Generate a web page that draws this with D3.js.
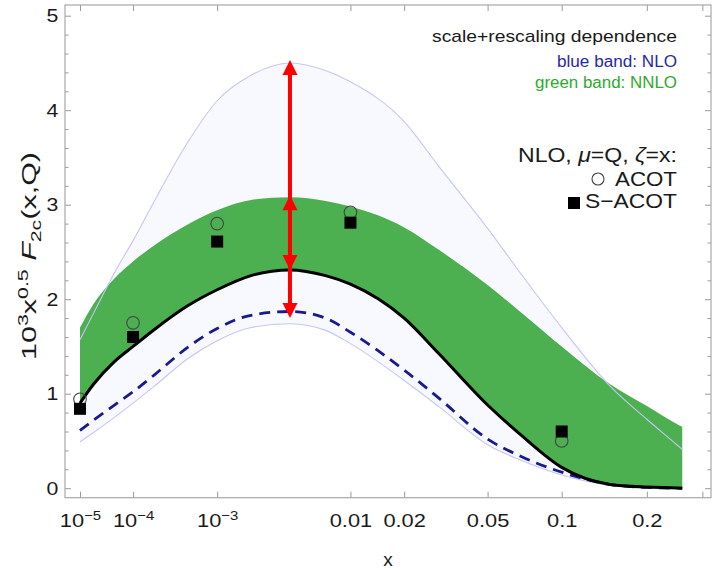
<!DOCTYPE html>
<html><head><meta charset="utf-8">
<script src="https://cdn.jsdelivr.net/npm/d3@7"></script>
<style>
html,body{margin:0;padding:0;background:#fff;}
svg{display:block;font-family:"Liberation Sans",Arial,Helvetica,sans-serif;}
</style>
</head><body>
<svg id="chart" width="712" height="572"></svg>
<script>
// ---------------- data ----------------
const xGrid        = [1e-5, 2e-5, 5e-5, 1e-4, 2e-4, 5e-4, 1e-3, 2e-3, 4e-3, 7e-3, 0.01, 0.02, 0.03, 0.05, 0.07, 0.1, 0.15, 0.2, 0.25, 0.26];
const nnloCentral  = [0.90, 1.10, 1.34, 1.50, 1.68, 1.93, 2.10, 2.25, 2.31, 2.25, 2.16, 1.80, 1.42, 0.88, 0.55, 0.22, 0.04, 0.012, 0.003, 0.0];
const nloCentral   = [0.61, 0.72, 0.88, 1.02, 1.20, 1.49, 1.69, 1.83, 1.87, 1.80, 1.65, 1.25, 0.95, 0.52, 0.33, 0.17, 0.04, 0.008, 0.0, 0.0];
const nloBandLow   = [0.49, 0.59, 0.75, 0.90, 1.08, 1.37, 1.56, 1.70, 1.74, 1.67, 1.53, 1.14, 0.86, 0.46, 0.29, 0.14, 0.03, 0.005, 0.0, 0.0];
const nloBandHigh  = [1.57, 1.85, 2.28, 2.62, 3.04, 3.66, 4.10, 4.37, 4.50, 4.42, 4.30, 3.88, 3.40, 2.75, 2.25, 1.70, 1.08, 0.73, 0.46, 0.41];
const nnloBandHigh = [1.70, 1.95, 2.22, 2.40, 2.57, 2.79, 2.94, 3.05, 3.08, 3.04, 2.98, 2.76, 2.52, 2.15, 1.85, 1.50, 1.10, 0.87, 0.68, 0.65];

const pointX   = [1e-5, 1e-4, 1e-3, 0.01, 0.1];
const acotY    = [0.94, 1.75, 2.80, 2.92, 0.50];
const sacotY   = [0.84, 1.60, 2.61, 2.81, 0.60];

const arrowX      = 0.004;
const arrowRanges = [[1.80, 4.53], [2.31, 3.10]];

const xTickValues = [1e-5, 1e-4, 1e-3, 0.01, 0.02, 0.05, 0.1, 0.2, 0.3];
const xTickLabels = [["10","−5"], ["10","−4"], ["10","−3"], ["0.01"], ["0.02"], ["0.05"], ["0.1"], ["0.2"], [""]];
const yTickValues = [0, 1, 2, 3, 4, 5];
const yMinorTicks = [0.2,0.4,0.6,0.8,1.2,1.4,1.6,1.8,2.2,2.4,2.6,2.8,3.2,3.4,3.6,3.8,4.2,4.4,4.6,4.8,5.2];

// ---------------- layout ----------------
const svg = d3.select("#chart");
const frame = {left: 65, right: 711, top: 5, bottom: 497.7};
const x = d3.scalePow().exponent(0.2).domain([1e-5, 0.1]).range([80, 561.7]);
const y = d3.scaleLinear().domain([0, 5]).range([488.2, 15.7]);

svg.append("defs").append("clipPath").attr("id","clip")
  .append("rect").attr("x",frame.left).attr("y",frame.top)
  .attr("width",frame.right-frame.left).attr("height",frame.bottom-frame.top);

const plot = svg.append("g").attr("clip-path","url(#clip)");
const idx = d3.range(xGrid.length);
const curve = d3.curveMonotoneX;

// NLO band (light lavender)
plot.append("path")
  .attr("d", d3.area().curve(curve).x(i=>x(xGrid[i])).y0(i=>y(nloBandLow[i])).y1(i=>y(nloBandHigh[i]))(idx))
  .attr("fill","#f8f8ff").attr("stroke","none");

// NNLO band (green) from central to upper
plot.append("path")
  .attr("d", d3.area().curve(curve).x(i=>x(xGrid[i])).y0(i=>y(nnloCentral[i])).y1(i=>y(nnloBandHigh[i]))(idx))
  .attr("fill","#4caf50").attr("stroke","none");

// NLO band edges
[nloBandLow, nloBandHigh].forEach(arr => {
  plot.append("path")
    .attr("d", d3.line().curve(curve).x(i=>x(xGrid[i])).y(i=>y(arr[i]))(idx))
    .attr("fill","none").attr("stroke","#c6c6f6").attr("stroke-width",1.1);
});

// NLO central (dashed)
plot.append("path")
  .attr("d", d3.line().curve(curve).x(i=>x(xGrid[i])).y(i=>y(nloCentral[i]))(idx))
  .attr("fill","none").attr("stroke","#1a1a8e").attr("stroke-width",2.8)
  .attr("stroke-dasharray","11,7");

// NNLO central (solid black)
plot.append("path")
  .attr("d", d3.line().curve(curve).x(i=>x(xGrid[i])).y(i=>y(nnloCentral[i]))(idx))
  .attr("fill","none").attr("stroke","#000").attr("stroke-width",3);

// markers
plot.selectAll("circle.acot").data(pointX).enter().append("circle")
  .attr("cx",(d)=>x(d)).attr("cy",(d,i)=>y(acotY[i])).attr("r",6.3)
  .attr("fill","none").attr("stroke","#444").attr("stroke-width",1.1);
plot.selectAll("rect.sacot").data(pointX).enter().append("rect")
  .attr("x",(d)=>x(d)-6).attr("y",(d,i)=>y(sacotY[i])-6).attr("width",12).attr("height",12)
  .attr("fill","#000");

// red arrows
const ax = x(arrowX);
arrowRanges.forEach(([lo, hi]) => {
  plot.append("line").attr("x1",ax).attr("x2",ax).attr("y1",y(lo)-8).attr("y2",y(hi)+8)
    .attr("stroke","#ff0000").attr("stroke-width",4);
  const yt = y(hi), yb = y(lo);
  plot.append("path").attr("d",`M${ax},${yt} L${ax-7.5},${yt+15} L${ax+7.5},${yt+15} Z`).attr("fill","#ff0000");
  plot.append("path").attr("d",`M${ax},${yb} L${ax-7.5},${yb-15} L${ax+7.5},${yb-15} Z`).attr("fill","#ff0000");
});

// ---------------- axes / frame ----------------
const tickCol = "#9a9a9a";
const bottomAxis = svg.append("g").attr("transform",`translate(0,${frame.bottom})`)
  .call(d3.axisBottom(x).tickValues(xTickValues).tickSizeInner(-6).tickSizeOuter(0).tickPadding(16).tickFormat(""));
bottomAxis.select(".domain").remove();
bottomAxis.attr("color",tickCol);
bottomAxis.selectAll(".tick text").each(function(d,i){
  const t = d3.select(this).attr("fill","#1a1a1a").style("font-size","19px").attr("transform","scale(1.15,1)");
  const lab = xTickLabels[i];
  t.append("tspan").text(lab[0]);
  if (lab.length > 1) t.append("tspan").attr("dy","-0.55em").style("font-size","13px").text(lab[1]);
});

const topAxis = svg.append("g").attr("transform",`translate(0,${frame.top})`)
  .call(d3.axisTop(x).tickValues(xTickValues).tickSizeInner(-6).tickSizeOuter(0).tickFormat(""));
topAxis.select(".domain").remove(); topAxis.attr("color",tickCol);

const leftAxis = svg.append("g").attr("transform",`translate(${frame.left},0)`)
  .call(d3.axisLeft(y).tickValues(yTickValues).tickSizeInner(-6).tickSizeOuter(0).tickPadding(6).tickFormat(d3.format("d")));
leftAxis.select(".domain").remove(); leftAxis.attr("color",tickCol);
leftAxis.selectAll(".tick text").attr("fill","#1a1a1a").style("font-size","19px").attr("transform","scale(1.12,1)");

const leftMinor = svg.append("g").attr("transform",`translate(${frame.left},0)`)
  .call(d3.axisLeft(y).tickValues(yMinorTicks).tickSizeInner(-3.5).tickSizeOuter(0).tickFormat(""));
leftMinor.select(".domain").remove(); leftMinor.attr("color",tickCol);

const rightAxis = svg.append("g").attr("transform",`translate(${frame.right},0)`)
  .call(d3.axisRight(y).tickValues(yTickValues).tickSizeInner(-6).tickSizeOuter(0).tickFormat(""));
rightAxis.select(".domain").remove(); rightAxis.attr("color",tickCol);
const rightMinor = svg.append("g").attr("transform",`translate(${frame.right},0)`)
  .call(d3.axisRight(y).tickValues(yMinorTicks).tickSizeInner(-3.5).tickSizeOuter(0).tickFormat(""));
rightMinor.select(".domain").remove(); rightMinor.attr("color",tickCol);

svg.append("rect").attr("x",frame.left).attr("y",frame.top)
  .attr("width",frame.right-frame.left).attr("height",frame.bottom-frame.top)
  .attr("fill","none").attr("stroke","#a8a8a8").attr("stroke-width",1.2);

// axis titles
svg.append("text").attr("x",(frame.left+frame.right)/2).attr("y",566)
  .attr("text-anchor","middle").style("font-size","19px").attr("fill","#1a1a1a").text("x");

const yl = svg.append("text").attr("transform","translate(36,256) rotate(-90)")
  .attr("text-anchor","middle").style("font-size","20px").attr("fill","#1a1a1a")
  .attr("textLength",208).attr("lengthAdjust","spacingAndGlyphs");
yl.append("tspan").text("10");
yl.append("tspan").attr("dy",-8).style("font-size","14px").text("3");
yl.append("tspan").attr("dy",8).text("x");
yl.append("tspan").attr("dy",-8).style("font-size","14px").text("0.5");
yl.append("tspan").attr("dy",8).text(" ");
yl.append("tspan").style("font-style","italic").text("F");
yl.append("tspan").attr("dy",5).style("font-size","14px").text("2c");
yl.append("tspan").attr("dy",-5).text("(x,Q)");

// legend / annotations
svg.append("text").attr("x",432).attr("y",41.7).style("font-size","17px").attr("fill","#1a1a1a")
  .attr("textLength",245).attr("lengthAdjust","spacingAndGlyphs").text("scale+rescaling dependence");
svg.append("text").attr("x",557).attr("y",66.7).style("font-size","16px").attr("fill","#2828aa")
  .attr("textLength",120).attr("lengthAdjust","spacingAndGlyphs").text("blue band: NLO");
svg.append("text").attr("x",535).attr("y",88.3).style("font-size","16px").attr("fill","#2eaa2e")
  .attr("textLength",142).attr("lengthAdjust","spacingAndGlyphs").text("green band: NNLO");

const l4 = svg.append("text").attr("x",518).attr("y",161.7).style("font-size","20px").attr("fill","#1a1a1a")
  .attr("textLength",159).attr("lengthAdjust","spacingAndGlyphs");
l4.append("tspan").text("NLO, ");
l4.append("tspan").style("font-style","italic").text("μ");
l4.append("tspan").text("=Q, ");
l4.append("tspan").style("font-style","italic").text("ζ");
l4.append("tspan").text("=x:");

svg.append("circle").attr("cx",598).attr("cy",179).attr("r",6).attr("fill","none").attr("stroke","#444").attr("stroke-width",1.1);
svg.append("text").attr("x",615).attr("y",185.7).style("font-size","21px").attr("fill","#1a1a1a")
  .attr("textLength",62).attr("lengthAdjust","spacingAndGlyphs").text("ACOT");
svg.append("rect").attr("x",568).attr("y",197).attr("width",12).attr("height",12).attr("fill","#000");
svg.append("text").attr("x",585).attr("y",208).style("font-size","21px").attr("fill","#1a1a1a")
  .attr("textLength",92).attr("lengthAdjust","spacingAndGlyphs").text("S−ACOT");
</script>
</body></html>
